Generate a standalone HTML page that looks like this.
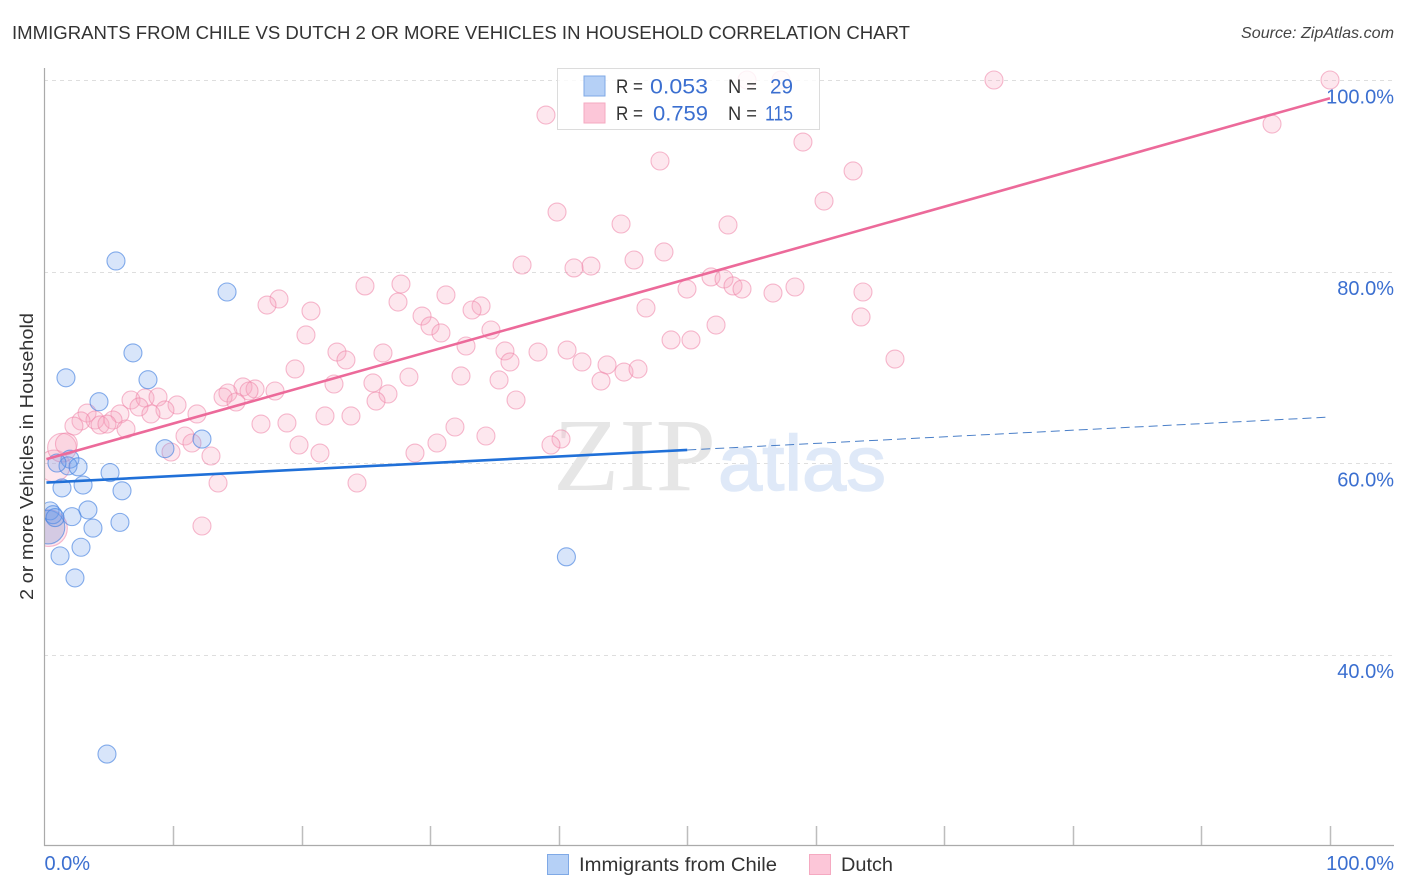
<!DOCTYPE html>
<html lang="en">
<head>
<meta charset="utf-8">
<title>Immigrants from Chile vs Dutch 2 or More Vehicles in Household Correlation Chart</title>
<style>
html,body{margin:0;padding:0;background:#fff;width:1406px;height:892px;overflow:hidden}
svg{display:block;font-family:"Liberation Sans",sans-serif}
</style>
</head>
<body>
<svg id="chart" width="1406" height="892" viewBox="0 0 1406 892" xmlns="http://www.w3.org/2000/svg">
  <defs><clipPath id="plot-clip"><rect x="45" y="60" width="1349" height="785"/></clipPath></defs>
  <text x="12" y="39" font-size="18.6" fill="#333" textLength="898" lengthAdjust="spacingAndGlyphs">IMMIGRANTS FROM CHILE VS DUTCH 2 OR MORE VEHICLES IN HOUSEHOLD CORRELATION CHART</text>
  <text x="1241" y="38" font-size="15.6" font-style="italic" fill="#444" textLength="153" lengthAdjust="spacingAndGlyphs">Source: ZipAtlas.com</text>
  <g id="grid"></g>
  <text x="553" y="490" font-family="'Liberation Serif',serif" font-size="104" fill="#e6e6e6" textLength="163" lengthAdjust="spacingAndGlyphs">ZIP</text>
  <text x="718" y="490" font-size="78" fill="#dfe9f8" stroke="#dfe9f8" stroke-width="1.5" textLength="168" lengthAdjust="spacingAndGlyphs">atlas</text>
  <g clip-path="url(#plot-clip)">
    <g id="points-dutch"></g>
    <g id="points-chile"></g>
  </g>
  <g id="trends"></g>
  <g id="axes"></g>
  <text transform="translate(33,456.5) rotate(-90)" font-size="18.4" fill="#333" text-anchor="middle" textLength="287" lengthAdjust="spacingAndGlyphs">2 or more Vehicles in Household</text>

  <g>
    <rect x="557.5" y="68.5" width="262" height="61" fill="#fff" fill-opacity="0.82" stroke="#dcdcdc"/>
    <rect x="584" y="76" width="21" height="20" fill="#b5d0f6" stroke="#7fa9e6"/>
    <rect x="584" y="103" width="21" height="20" fill="#fcc6d8" stroke="#f5a9c1"/>
    <g font-size="19.5" fill="#333">
      <text x="616" y="93" textLength="27" lengthAdjust="spacingAndGlyphs">R =</text>
      <text x="728" y="93" textLength="29" lengthAdjust="spacingAndGlyphs">N =</text>
      <text x="616" y="120" textLength="27" lengthAdjust="spacingAndGlyphs">R =</text>
      <text x="728" y="120" textLength="29" lengthAdjust="spacingAndGlyphs">N =</text>
    </g>
    <g font-size="21.5" fill="#3b6fd0">
      <text x="650" y="93.5" textLength="58" lengthAdjust="spacingAndGlyphs">0.053</text>
      <text x="770" y="93.5" textLength="23" lengthAdjust="spacingAndGlyphs">29</text>
      <text x="653" y="120.5" textLength="55" lengthAdjust="spacingAndGlyphs">0.759</text>
      <text x="765" y="120.5" textLength="28" lengthAdjust="spacingAndGlyphs">115</text>
    </g>
  </g>

  <g>
    <rect x="547.5" y="854.5" width="21" height="20" fill="#b5d0f6" stroke="#7fa9e6"/>
    <text x="579" y="871" font-size="19.4" fill="#333" textLength="198" lengthAdjust="spacingAndGlyphs">Immigrants from Chile</text>
    <rect x="809.5" y="854.5" width="21" height="20" fill="#fcc6d8" stroke="#f5a9c1"/>
    <text x="841" y="871" font-size="19.4" fill="#333" textLength="52" lengthAdjust="spacingAndGlyphs">Dutch</text>
  </g>
</svg>
<script>
// Categories / ticks
const yTickValues = [100, 80, 60, 40];
const yTickLabels = ["100.0%", "80.0%", "60.0%", "40.0%"];
const xTickValues = [0, 10, 20, 30, 40, 50, 60, 70, 80, 90, 100];
const xEndValues = [0, 100];
const xEndLabels = ["0.0%", "100.0%"];

// Immigrants from Chile: share of immigrants (x) and vehicle rate (y)
const chileX = [5.56,14.2,6.88,1.67,8.05,4.24,9.37,12.25,1.98,1.83,2.61,0.97,5.1,3.0,1.36,6.03,3.38,2.14,0.43,0.66,0.82,5.87,3.77,2.84,1.21,2.37,4.86,40.6];
const chileY = [81.1,77.86,71.5,68.9,68.7,66.4,61.5,62.5,60.4,59.7,59.6,60.0,59.0,57.7,57.4,57.1,55.1,54.4,55.0,54.6,54.3,53.8,53.2,51.2,50.3,48.0,29.6,50.2];
const chileWeightedX = [0.27];
const chileWeightedY = [53.3];
const chileWeights = [3.4];

// Dutch
const dutchX = [100,73.86,54.65,57.29,95.49,39.01,59.0,47.88,62.9,60.64,39.87,44.85,53.17,48.19,45.86,37.15,42.51,41.19,51.85,52.86,53.56,54.26,49.98,56.67,58.38,63.67,63.52,66.16,24.93,27.73,18.24,17.31,27.5,31.23,20.73,33.96,33.26,46.79,29.37,29.99,30.84,20.34,34.73,52.24,48.74,50.29,32.79,22.75,23.45,26.33,35.82,38.39,40.65,19.49,36.21,41.81,43.76,45.08,46.17,43.29,28.35,32.4,35.36,22.52,25.55,15.44,16.38,15.91,17.93,14.27,13.89,14.9,26.72,25.79,36.68,6.73,7.82,8.83,10.31,7.35,9.37,8.28,11.86,5.87,3.31,3.93,2.84,2.29,4.32,5.33,4.86,6.34,21.82,23.84,16.84,18.86,31.93,34.34,10.93,11.47,30.53,40.18,39.4,19.8,21.43,28.82,12.95,9.84,13.5,24.31,12.25];
const dutchY = [100,100,100,100,95.4,96.34,93.52,91.54,90.5,87.36,86.21,84.96,84.86,82.04,81.2,80.68,80.57,80.37,79.43,79.22,78.49,78.17,78.17,77.75,78.38,77.86,75.25,70.86,78.49,78.69,77.13,76.5,76.81,77.55,75.87,76.4,75.98,76.19,75.35,74.31,73.58,73.37,73.89,74.41,72.85,72.85,72.22,71.59,70.76,71.49,71.7,71.59,71.8,69.82,70.55,70.55,70.24,69.5,69.82,68.56,68.98,69.09,68.67,68.25,68.36,67.94,67.73,67.52,67.52,67.31,66.89,66.37,67.21,66.47,66.58,66.58,66.79,66.89,66.06,65.85,65.54,65.12,65.12,65.12,65.22,64.49,64.39,63.86,63.97,64.49,64.07,63.55,64.91,64.91,64.07,64.18,63.76,62.82,62.82,62.09,62.09,62.51,61.88,61.88,61.04,61.04,60.73,61.15,57.91,57.91,53.42];
const dutchWeightedX = [0.35,0.75,1.36,1.7];
const dutchWeightedY = [53.2,59.7,61.6,62.0];
const dutchWeights = [3.7,3.2,2.9,2.2];

// Trend lines: [x, y] value pairs
const dutchTrendX = [0.15, 100];
const dutchTrendY = [60.4, 98.1];
const chileSolidX = [0.15, 50];
const chileSolidY = [57.96, 61.36];
const chileDashX = [50, 100];
const chileDashY = [61.36, 64.8];

const NS = "http://www.w3.org/2000/svg";
const xAt = function (v) { return 44.5 + v * 12.855; };
const yAt = function (v) { return 80 + (100 - v) * 9.575; };
const dotRadius = function (w) { return 9 * (w > 0 ? Math.max(1, w * 0.55) : 1); };
const make = function (tag, parent, attrs) {
  const el = document.createElementNS(NS, tag);
  Object.keys(attrs).forEach(function (k) { el.setAttribute(k, attrs[k]); });
  parent.appendChild(el);
  return el;
};

const grid = document.getElementById("grid");
const axes = document.getElementById("axes");
yTickValues.forEach(function (v, i) {
  const y = Math.round(yAt(v)) + 0.5;
  const line = make("line", grid, { x1: 44, x2: 1394, y1: y, y2: y, stroke: "#dedede", "stroke-width": 1, "stroke-dasharray": "4 4" });
  
  
  const label = make("text", axes, { x: 1394, y: yAt(v) + 23.5, "font-size": 20, fill: "#3b6fd0", "text-anchor": "end" });
  label.textContent = yTickLabels[i];
  
  
});
xTickValues.forEach(function (v) {
  if (v === 0) return;
  const x = Math.round(xAt(v)) + 0.5;
  const tick = make("line", axes, { x1: x, x2: x, y1: 826, y2: 845, stroke: "#bdbdbd", "stroke-width": 1.5 });
  
  
});
xEndValues.forEach(function (v, i) {
  const label = make("text", axes, { x: v === 0 ? xAt(v) : 1394, y: 870, "font-size": 20, fill: "#3b6fd0", "text-anchor": v === 0 ? "start" : "end" });
  label.textContent = xEndLabels[i];
  
  
});
const yAxis = make("line", axes, { x1: 44.5, x2: 44.5, y1: 68, y2: 846, stroke: "#aaa", "stroke-width": 1.2 });


const xAxis = make("line", axes, { x1: 44, x2: 1394, y1: 845.5, y2: 845.5, stroke: "#aaa", "stroke-width": 1.2 });



const drawDot = function (parent, xv, yv, w, fill, stroke, name) {
  const c = make("circle", parent, {
    cx: xAt(xv), cy: yAt(yv), r: dotRadius(w),
    fill: fill, stroke: stroke, "stroke-width": 1.1
  });
  
  
};

const dutchLayer = document.getElementById("points-dutch");
const chileLayer = document.getElementById("points-chile");
const pinkFill = "rgba(248,165,192,0.27)";
const pinkStroke = "rgba(238,130,165,0.55)";
const blueFill = "rgba(110,160,235,0.27)";
const blueStroke = "rgba(70,130,225,0.65)";

dutchWeightedX.forEach(function (x, i) { drawDot(dutchLayer, x, dutchWeightedY[i], dutchWeights[i], pinkFill, pinkStroke, "dutch-point-large"); });
dutchX.forEach(function (x, i) { drawDot(dutchLayer, x, dutchY[i], 0, pinkFill, pinkStroke, "dutch-point"); });
chileWeightedX.forEach(function (x, i) { drawDot(chileLayer, x, chileWeightedY[i], chileWeights[i], "rgba(105,125,200,0.27)", blueStroke, "chile-point-large"); });
chileX.forEach(function (x, i) { drawDot(chileLayer, x, chileY[i], 0, blueFill, blueStroke, "chile-point"); });

const trends = document.getElementById("trends");
const drawLine = function (xs, ys, stroke, width, dash, name) {
  const attrs = { x1: xAt(xs[0]), y1: yAt(ys[0]), x2: xAt(xs[1]), y2: yAt(ys[1]), stroke: stroke, "stroke-width": width };
  if (dash) attrs["stroke-dasharray"] = dash;
  const l = make("line", trends, attrs);
  
  
};
drawLine(chileDashX, chileDashY, "#4a7fc8", 1, "9 5", "chile-trend-extension");
drawLine(chileSolidX, chileSolidY, "#2070d8", 2.6, null, "chile-trend-line");
drawLine(dutchTrendX, dutchTrendY, "#ec6a9a", 2.6, null, "dutch-trend-line");
</script>
</body>
</html>
